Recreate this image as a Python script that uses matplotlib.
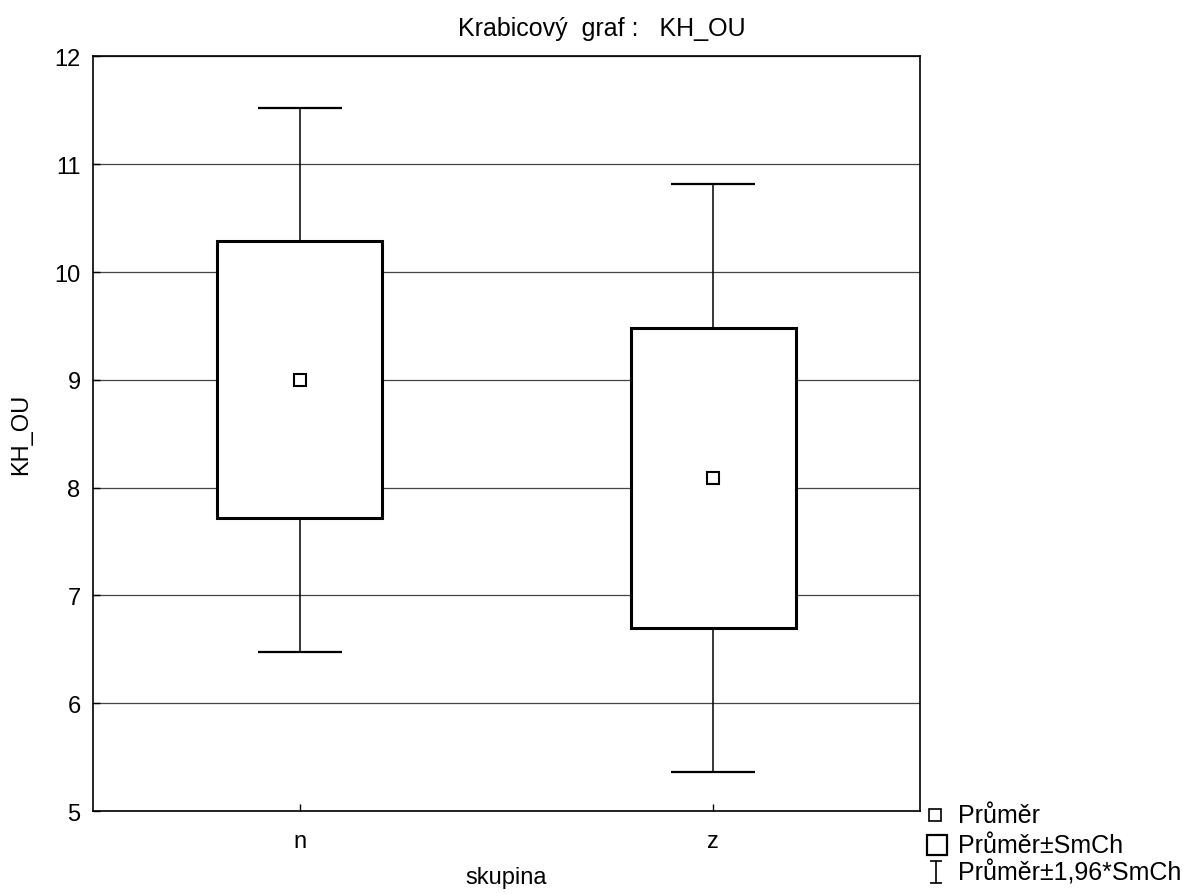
import matplotlib
matplotlib.use('Agg')
import matplotlib.pyplot as plt
from matplotlib.lines import Line2D
from matplotlib.path import Path

plt.rcParams['font.family'] = ['Liberation Sans', 'DejaVu Sans']
plt.rcParams['font.size'] = 17

# data
groups = ['n', 'z']
means = [9.0, 8.09]
se = [1.286, 1.39]
z_mult = 1.96
legend_labels = ['Průměr', 'Průměr±SmCh', 'Průměr±1,96*SmCh']

fig = plt.figure(figsize=(11.91, 8.95), dpi=100)
ax = fig.add_axes([0.0781, 0.0927, 0.6944, 0.8431])

x = list(range(len(groups)))
box_low = [m - s for m, s in zip(means, se)]
box_h = [2 * s for s in se]
wh = [z_mult * s for s in se]

# whiskers (behind the box)
ax.errorbar(x, means, yerr=wh, fmt='none', ecolor='black', elinewidth=1.1,
            capsize=30, capthick=1.6, zorder=2)
# boxes: mean +- SE
ax.bar(x, box_h, bottom=box_low, width=0.4, color='white',
       edgecolor='black', linewidth=2.2, zorder=3)
# means
ax.plot(x, means, ls='none', marker='s', ms=9, mfc='white', mec='black',
        mew=1.5, zorder=4)

ax.set_xlim(-0.5, 1.5)
ax.set_ylim(5, 12)
ax.set_xticks(x)
ax.set_xticklabels(groups)
ax.set_yticks(range(5, 13))
ax.tick_params(direction='in', length=5, width=1)
ax.tick_params(axis='x', pad=14)
ax.tick_params(axis='y', pad=9)
ax.yaxis.grid(True, color='#444444', linewidth=0.9, zorder=0)
ax.set_axisbelow(True)
for sp in ax.spines.values():
    sp.set_linewidth(1.2)

ax.set_xlabel('skupina', labelpad=10)
ax.set_ylabel('KH_OU', labelpad=16)
fig.text(0.505, 0.9676, 'Krabicový  graf :   KH_OU', ha='center', va='center',
         fontsize=18)

# legend, drawn by hand below the right edge of the plot
ibar = Path([(-0.5, -1), (0.5, -1), (0, -1), (0, 1), (-0.5, 1), (0.5, 1)],
            [Path.MOVETO, Path.LINETO, Path.MOVETO, Path.LINETO,
             Path.MOVETO, Path.LINETO])
row_y = [0.0883, 0.0547, 0.0246]
fig.add_artist(Line2D([0.785], [row_y[0]], ls='none', marker='s', ms=8,
                      mfc='white', mec='black', mew=1.2))
fig.add_artist(Line2D([0.787], [row_y[1]], ls='none', marker='s', ms=14,
                      mfc='white', mec='black', mew=1.6))
fig.add_artist(Line2D([0.786], [row_y[2]], ls='none', marker=ibar, ms=16,
                      mfc='none', mec='black', mew=1.2))
for lab, yy in zip(legend_labels, row_y):
    fig.text(0.8044, yy, lab, ha='left', va='center', fontsize=18)

fig.savefig('out.png', dpi=100)
